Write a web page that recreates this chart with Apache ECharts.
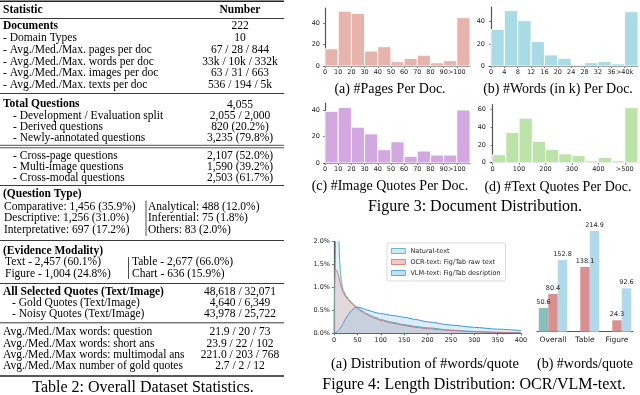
<!DOCTYPE html>
<html><head><meta charset="utf-8">
<script src="https://cdn.jsdelivr.net/npm/echarts@6/dist/echarts.min.js"></script>
<style>html,body{margin:0;padding:0;background:#fff}#c{width:640px;height:395px}</style>
</head><body><div id="c"></div>
<script>
// ---------------- data ----------------
const pagesCounts = [16, 51, 49, 14, 18, 4, 7, 10, 3, 5, 45];
const pagesTicks  = ['0','10','20','30','40','50','60','70','80','90','>100'];
const wordsCounts = [33, 50, 41, 22, 10, 7, 1, 3, 4, 2, 49];
const wordsTicks  = ['0','4','8','12','16','20','24','28','32','36','>40k'];
const imageCounts = [39, 42, 27, 22, 10, 16, 5, 9, 6, 6, 40];
const imageTicks  = ['0','10','20','30','40','50','60','70','80','90','>100'];
const textCounts  = [9, 34, 50, 24, 15, 10, 8, 2, 6, 2, 62];
const textTicks   = ['0','','100','','200','','300','','400','','>500'];
const histYTicksA = [0, 20, 40];
const histYTicksD = [0, 20, 40, 60];

const lenX       = [0,2,4,6,8,10,12,14,16,18,20,25,30,35,40,45,50,60,70,80,90,100,125,150,175,200,250,300,350,400];
const naturalPct = [0.0,1.2,2.5,2.7,2.6,2.2,1.6,1.3,1.12,1.0,0.93,0.83,0.76,0.70,0.65,0.60,0.56,0.49,0.43,0.38,0.34,0.30,0.24,0.19,0.15,0.12,0.07,0.04,0.02,0.01];
const ocrPct     = [1.38,1.39,1.39,1.37,1.32,1.24,1.15,1.07,0.99,0.93,0.88,0.80,0.74,0.68,0.63,0.58,0.54,0.47,0.41,0.36,0.32,0.28,0.22,0.17,0.13,0.10,0.06,0.035,0.02,0.01];
const vlmPct     = [0,0.01,0.02,0.03,0.05,0.07,0.09,0.12,0.15,0.19,0.23,0.32,0.40,0.47,0.52,0.56,0.57,0.55,0.51,0.48,0.45,0.43,0.39,0.35,0.30,0.25,0.18,0.13,0.09,0.06];

const quoteCats  = ['Overall', 'Table', 'Figure'];
const naturalAvg = [50.6, '-', '-'];
const ocrAvg     = [80.4, 138.1, 24.3];
const vlmAvg     = [152.8, 214.9, 92.6];

const tableHeader = ['Statistic', 'Number'];
const docRows = [['Documents','222'],['- Domain Types','10'],['- Avg./Med./Max. pages per doc','67 / 28 / 844'],['- Avg./Med./Max. words per doc','33k / 10k / 332k'],['- Avg./Med./Max. images per doc','63 / 31 / 663'],['- Avg./Med./Max. texts per doc','536 / 194 / 5k']];
const questionRows = [['Total Questions','4,055'],['- Development / Evaluation split','2,055 / 2,000'],['- Derived questions','820 (20.2%)'],['- Newly-annotated questions','3,235 (79.8%)']];
const crossRows = [['- Cross-page questions','2,107 (52.0%)'],['- Multi-image questions','1,590 (39.2%)'],['- Cross-modal questions','2,503 (61.7%)']];
const qTypeTitle = '(Question Type)';
const qTypeRows = [['Comparative: 1,456 (35.9%)','Analytical: 488 (12.0%)'],['Descriptive: 1,256 (31.0%)','Inferential: 75 (1.8%)'],['Interpretative: 697 (17.2%)','Others: 83 (2.0%)']];
const modalTitle = '(Evidence Modality)';
const modalRows = [['Text - 2,457 (60.1%)','Table - 2,677 (66.0%)'],['Figure - 1,004 (24.8%)','Chart - 636 (15.9%)']];
const quoteRows = [['All Selected Quotes (Text/Image)','48,618 / 32,071'],['- Gold Quotes (Text/Image)','4,640 / 6,349'],['- Noisy Quotes (Text/Image)','43,978 / 25,722']];
const wordRows = [['Avg./Med./Max words: question','21.9 / 20 / 73'],['Avg./Med./Max words: short ans','23.9 / 22 / 102'],['Avg./Med./Max words: multimodal ans','221.0 / 203 / 768'],['Avg./Med./Max number of gold quotes','2.7 / 2 / 12']];

// ---------------- layout / styles ----------------
const SERIF = '"Liberation Serif","Times New Roman",serif';
const SANS = '"DejaVu Sans",sans-serif';
const TFS = 11.5;
const g = [];
function txt(x, y, s, opt) {
  opt = opt || {};
  g.push({type:'text', x:x, y:y, silent:true, style:{text:s, fill:'#000',
    font:(opt.bold?'bold ':'') + (opt.size||TFS) + 'px ' + SERIF,
    align:opt.align||'left', verticalAlign:'middle'}});
}
function hline(y, w, x1, x2) {
  g.push({type:'line', silent:true, shape:{x1:x1||0, y1:y, x2:x2||284, y2:y}, style:{stroke:'#222', lineWidth:w}});
}
function vline(x, y1, y2) {
  g.push({type:'line', silent:true, shape:{x1:x, y1:y1, x2:x, y2:y2}, style:{stroke:'#222', lineWidth:0.8}});
}
const NUMX = 240;
function section(rows, y0, dy, xs, boldFirst) {
  rows.forEach((r, i) => {
    const y = y0 + i * dy;
    const b = boldFirst && i === 0;
    txt(b ? 3 : xs, y, r[0], {bold:b});
    txt(NUMX, y, r[1], {align:'center'});
  });
}
hline(1.2, 1.6);
txt(3, 9.8, tableHeader[0], {bold:true});
txt(NUMX, 9.8, tableHeader[1], {bold:true, align:'center'});
hline(18.5, 0.9);
section(docRows, 26.2, 11.8, 3, true);
hline(93.5, 0.9);
section(questionRows, 104.5, 11, 13, true);
hline(145.3, 0.8); hline(147.8, 0.8);
section(crossRows, 155.5, 11, 13, false);
hline(185.5, 0.9);
txt(3, 194.5, qTypeTitle, {bold:true});
qTypeRows.forEach((r, i) => { const y = 206.5 + i * 11.7; txt(4, y, r[0]); txt(148, y, r[1]); });
vline(146, 200.5, 236);
hline(240.5, 0.9);
txt(3, 251.3, modalTitle, {bold:true});
modalRows.forEach((r, i) => { const y = 262.3 + i * 11.3; txt(5, y, r[0]); txt(132, y, r[1]); });
vline(128.5, 257, 279);
hline(283.5, 0.9);
section(quoteRows, 292.2, 10.8, 12, true);
hline(322.8, 0.9);
wordRows.forEach((r, i) => { const y = 332.2 + i * 11.4; txt(3, y, r[0]); txt(NUMX, y, r[1], {align:'center'}); });
hline(376, 1.6);

// captions
txt(143, 388, 'Table 2: Overall Dataset Statistics.', {align:'center', size:16});
txt(390, 89.5, '(a) #Pages Per Doc.', {align:'center', size:14});
txt(558, 89.5, '(b) #Words (in k) Per Doc.', {align:'center', size:14});
txt(390, 186, '(c) #Image Quotes Per Doc.', {align:'center', size:14});
txt(558, 187, '(d) #Text Quotes Per Doc.', {align:'center', size:14});
txt(475, 206.5, 'Figure 3: Document Distribution.', {align:'center', size:16});
txt(425, 364, '(a) Distribution of #words/quote', {align:'center', size:14.5});
txt(585, 364, '(b) #words/quote', {align:'center', size:14});
txt(474, 384.5, 'Figure 4: Length Distribution: OCR/VLM-text.', {align:'center', size:16});

// ---------------- axes ----------------
const AX = '#555';
const lblStyle = {fontFamily:SANS, fontSize:6.5, color:'#222'};
function histX(idx, ticks, min, max) {
  const vals = ticks.map((t, i) => i).filter(i => ticks[i] !== '');
  return {gridIndex:idx, type:'value', min:min, max:max,
    axisLine:{show:true, onZero:false, lineStyle:{color:AX, width:1}},
    axisTick:{show:true, length:2, customValues:vals, lineStyle:{color:AX, width:0.8}},
    axisLabel:Object.assign({margin:3, customValues:vals, formatter:v => ticks[Math.round(v)] || ''}, lblStyle),
    splitLine:{show:false}};
}
function histY(idx, max, ticks) {
  return {gridIndex:idx, type:'value', min:0, max:max,
    axisLine:{show:true, lineStyle:{color:AX, width:1.2}},
    axisTick:{show:true, length:2, customValues:ticks, lineStyle:{color:AX, width:0.8}},
    axisLabel:Object.assign({margin:4, customValues:ticks}, lblStyle),
    splitLine:{show:false}};
}
function histSeries(idx, counts, color) {
  return {type:'custom', xAxisIndex:idx, yAxisIndex:idx, silent:true,
    data:counts.map((c, i) => [i, i + 1, c]),
    encode:{x:[0, 1], y:2},
    renderItem:function(params, api) {
      const p0 = api.coord([api.value(0), api.value(2)]);
      const p1 = api.coord([api.value(1), 0]);
      return {type:'rect', shape:{x:p0[0], y:p0[1], width:p1[0] - p0[0], height:p1[1] - p0[1]},
        style:{fill:color, stroke:'#fff', lineWidth:0.9}};
    }};
}

const grids = [
  {left:324, top:8, width:146, height:58},
  {left:489, top:7, width:149, height:59},
  {left:324, top:103, width:146, height:60},
  {left:490, top:104.5, width:148, height:58.2},
  {left:334, top:241.7, width:187, height:91.6},
  {left:537, top:219.2, width:96, height:112.5}
].map(o => Object.assign({containLabel:false, outerBoundsMode:'none'}, o));

const option = {
  animation:false,
  backgroundColor:'#fff',
  graphic:g,
  grid:grids,
  xAxis:[
    histX(0, pagesTicks, -0.08, 11),
    histX(1, wordsTicks, -0.15, 11),
    histX(2, imageTicks, -0.08, 11),
    histX(3, textTicks, -0.2, 11),
    {gridIndex:4, type:'value', min:0, max:400, interval:50,
      axisLine:{show:true, onZero:false, lineStyle:{color:AX, width:1}},
      axisTick:{show:true, length:2, lineStyle:{color:AX, width:0.8}},
      axisLabel:Object.assign({margin:4}, lblStyle), splitLine:{show:false}},
    {gridIndex:5, type:'category', data:quoteCats,
      axisLine:{show:true, lineStyle:{color:AX, width:1}},
      axisTick:{show:false},
      axisLabel:{interval:0, margin:4, fontFamily:SANS, fontSize:7.5, color:'#222'}}
  ],
  yAxis:[
    histY(0, 54, histYTicksA),
    histY(1, 53.25, histYTicksA),
    histY(2, 45.3, histYTicksA),
    histY(3, 65.4, histYTicksD),
    {gridIndex:4, type:'value', min:0, max:2.0, interval:0.5,
      axisLine:{show:true, lineStyle:{color:AX, width:1.2}},
      axisTick:{show:true, length:2, lineStyle:{color:AX, width:0.8}},
      axisLabel:Object.assign({margin:4, formatter:v => v.toFixed(1) + '%'}, lblStyle),
      splitLine:{show:false}},
    {gridIndex:5, type:'value', min:0, max:240, show:false, splitLine:{show:false}}
  ],
  legend:{
    left:387, top:243, orient:'vertical', icon:'rect', itemWidth:14, itemHeight:5, itemGap:3,
    padding:[4, 5, 4, 4], backgroundColor:'rgba(255,255,255,0.9)', borderColor:'#cfcfcf',
    borderWidth:0.8, borderRadius:2, selectedMode:false,
    textStyle:{fontFamily:SANS, fontSize:6.5, color:'#222', lineHeight:8},
    data:[
      {name:'Natural-text', itemStyle:{color:'#cdeaf0', borderColor:'#4ea7b3', borderWidth:0.8}},
      {name:'OCR-text: Fig/Tab raw text', itemStyle:{color:'#f0c9c9', borderColor:'#d56b6b', borderWidth:0.8}},
      {name:'VLM-text: Fig/Tab desription', itemStyle:{color:'#c3e1f4', borderColor:'#3a98d6', borderWidth:0.8}}
    ]
  },
  series:[
    histSeries(0, pagesCounts, '#e7b4ab'),
    histSeries(1, wordsCounts, '#a9dbe4'),
    histSeries(2, imageCounts, '#d3a8e0'),
    histSeries(3, textCounts, '#bde4a8'),
    {type:'line', name:'Natural-text', xAxisIndex:4, yAxisIndex:4, silent:true,
      data:lenX.map((x, i) => [x, naturalPct[i]]), showSymbol:false, smooth:0.25, smoothMonotone:'x',
      lineStyle:{color:'#4ea7b3', width:1}, itemStyle:{color:'#4ea7b3'},
      areaStyle:{color:'rgba(175,222,232,0.5)'}, z:2},
    {type:'line', name:'OCR-text: Fig/Tab raw text', xAxisIndex:4, yAxisIndex:4, silent:true,
      data:lenX.map((x, i) => [x, ocrPct[i]]), showSymbol:false, smooth:0.25, smoothMonotone:'x',
      lineStyle:{color:'#d56b6b', width:1}, itemStyle:{color:'#d56b6b'},
      areaStyle:{color:'rgba(225,150,150,0.4)'}, z:3},
    {type:'line', name:'VLM-text: Fig/Tab desription', xAxisIndex:4, yAxisIndex:4, silent:true,
      data:lenX.map((x, i) => [x, vlmPct[i]]), showSymbol:false, smooth:0.25, smoothMonotone:'x',
      lineStyle:{color:'#3a98d6', width:1}, itemStyle:{color:'#3a98d6'},
      areaStyle:{color:'rgba(120,180,225,0.35)'}, z:4},
    {type:'bar', xAxisIndex:5, yAxisIndex:5, data:naturalAvg, barWidth:9.5, barGap:'0%', silent:true,
      itemStyle:{color:'#86bfbd'}, label:{show:true, position:'top', distance:2, fontFamily:SANS, fontSize:6.5, color:'#222'}},
    {type:'bar', xAxisIndex:5, yAxisIndex:5, data:ocrAvg, barWidth:9.5, barGap:'0%', silent:true,
      itemStyle:{color:'#d99090'}, label:{show:true, position:'top', distance:2, fontFamily:SANS, fontSize:6.5, color:'#222'}},
    {type:'bar', xAxisIndex:5, yAxisIndex:5, data:vlmAvg, barWidth:9.5, barGap:'0%', silent:true,
      itemStyle:{color:'#b1d9ea'}, label:{show:true, position:'top', distance:2, fontFamily:SANS, fontSize:6.5, color:'#222'}}
  ]
};
const chart = echarts.init(document.getElementById('c'));
chart.setOption(option);
</script>
</body></html>
